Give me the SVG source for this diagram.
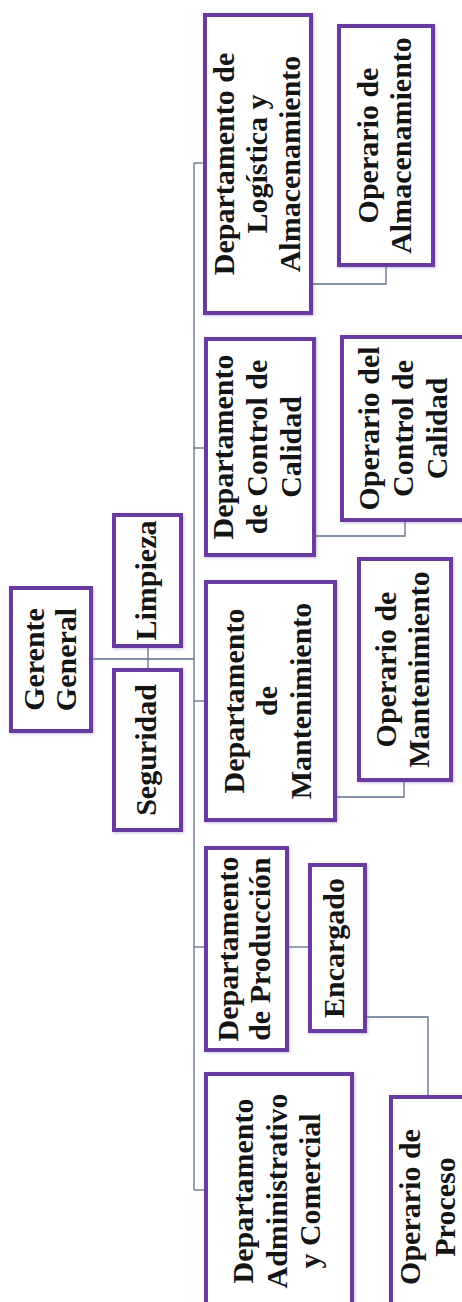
<svg xmlns="http://www.w3.org/2000/svg" width="462" height="1302" viewBox="0 0 462 1302">
<defs>
<filter id="sh" x="-10%" y="-10%" width="120%" height="120%">
<feDropShadow dx="1" dy="1" stdDeviation="1.5" flood-color="#8a6bb8" flood-opacity="0.45"/>
</filter>
<style>
.box{fill:#ffffff;stroke:#6b3a9e;stroke-width:4;filter:url(#sh)}
.t{font-family:"Liberation Serif","Times New Roman",serif;font-weight:bold;font-size:30px;fill:#141414;text-anchor:middle}
.c{fill:none;stroke:#5e6f88;stroke-width:1.3}
</style>
</defs>
<rect width="462" height="1302" fill="#ffffff"/>
<g id="connectors">
<path class="c" d="M93,659 H194"/>
<path class="c" d="M148,648 V668"/>
<path class="c" d="M194,163 V1190"/>
<path class="c" d="M194,163 H203"/>
<path class="c" d="M194,448 H204"/>
<path class="c" d="M194,701 H204"/>
<path class="c" d="M194,947 H204"/>
<path class="c" d="M194,1190 H204"/>
<path class="c" d="M313,284 H386 V267"/>
<path class="c" d="M316,536 H405 V522"/>
<path class="c" d="M337,797 H404 V782"/>
<path class="c" d="M289,947 H308"/>
<path class="c" d="M367,1017 H428 V1095"/>
</g>
<g id="gerente">
<rect class="box" x="11" y="588" width="80" height="143"/>
<text class="t" transform="translate(51,659.5) rotate(-90)"><tspan x="0" y="-7.5">Gerente</tspan><tspan x="0" y="24.5">General</tspan></text>
</g>
<g id="limpieza">
<rect class="box" x="114" y="515" width="67" height="131"/>
<text class="t" transform="translate(146,580.5) rotate(-90)"><tspan x="0" y="10">Limpieza</tspan></text>
</g>
<g id="seguridad">
<rect class="box" x="114" y="670" width="67" height="160"/>
<text class="t" transform="translate(146,750) rotate(-90)"><tspan x="0" y="10">Seguridad</tspan></text>
</g>
<g id="logistica">
<rect class="box" x="205" y="15" width="106" height="298"/>
<text class="t" transform="translate(258,164) rotate(-90)"><tspan x="0" y="-24">Departamento de</tspan><tspan x="0" y="9">Logística y</tspan><tspan x="0" y="42">Almacenamiento</tspan></text>
</g>
<g id="operario-almacenamiento">
<rect class="box" x="339" y="26" width="94" height="239"/>
<text class="t" transform="translate(386,145.5) rotate(-90)"><tspan x="0" y="-8">Operario de</tspan><tspan x="0" y="25">Almacenamiento</tspan></text>
</g>
<g id="calidad">
<rect class="box" x="206" y="339" width="108" height="216"/>
<text class="t" transform="translate(260,447) rotate(-90)"><tspan x="0" y="-27">Departamento</tspan><tspan x="0" y="7">de Control de</tspan><tspan x="0" y="41">Calidad</tspan></text>
</g>
<g id="operario-calidad">
<rect class="box" x="342" y="337" width="130" height="183"/>
<text class="t" transform="translate(403,428.5) rotate(-90)"><tspan x="0" y="-24">Operario del</tspan><tspan x="0" y="10">Control de</tspan><tspan x="0" y="44">Calidad</tspan></text>
</g>
<g id="mantenimiento">
<rect class="box" x="206" y="582" width="129" height="238"/>
<text class="t" transform="translate(270,701) rotate(-90)"><tspan x="0" y="-26">Departamento</tspan><tspan x="0" y="7">de</tspan><tspan x="0" y="41">Mantenimiento</tspan></text>
</g>
<g id="operario-mantenimiento">
<rect class="box" x="359" y="559" width="92" height="221"/>
<text class="t" transform="translate(405,669.5) rotate(-90)"><tspan x="0" y="-9">Operario de</tspan><tspan x="0" y="24">Mantenimiento</tspan></text>
</g>
<g id="produccion">
<rect class="box" x="206" y="848" width="81" height="202"/>
<text class="t" transform="translate(246,949) rotate(-90)"><tspan x="0" y="-8">Departamento</tspan><tspan x="0" y="24">de Producción</tspan></text>
</g>
<g id="encargado">
<rect class="box" x="310" y="865" width="55" height="166"/>
<text class="t" transform="translate(337.5,948) rotate(-90)"><tspan x="0" y="6.5">Encargado</tspan></text>
</g>
<g id="administrativo">
<rect class="box" x="206" y="1074" width="146" height="240"/>
<text class="t" transform="translate(279,1191) rotate(-90)"><tspan x="0" y="-26">Departamento</tspan><tspan x="0" y="8">Administrativo</tspan><tspan x="0" y="41">y Comercial</tspan></text>
</g>
<g id="operario-proceso">
<rect class="box" x="391" y="1097" width="90" height="225"/>
<text class="t" transform="translate(427,1207) rotate(-90)"><tspan x="0" y="-7">Operario de</tspan><tspan x="0" y="28">Proceso</tspan></text>
</g>
</svg>
